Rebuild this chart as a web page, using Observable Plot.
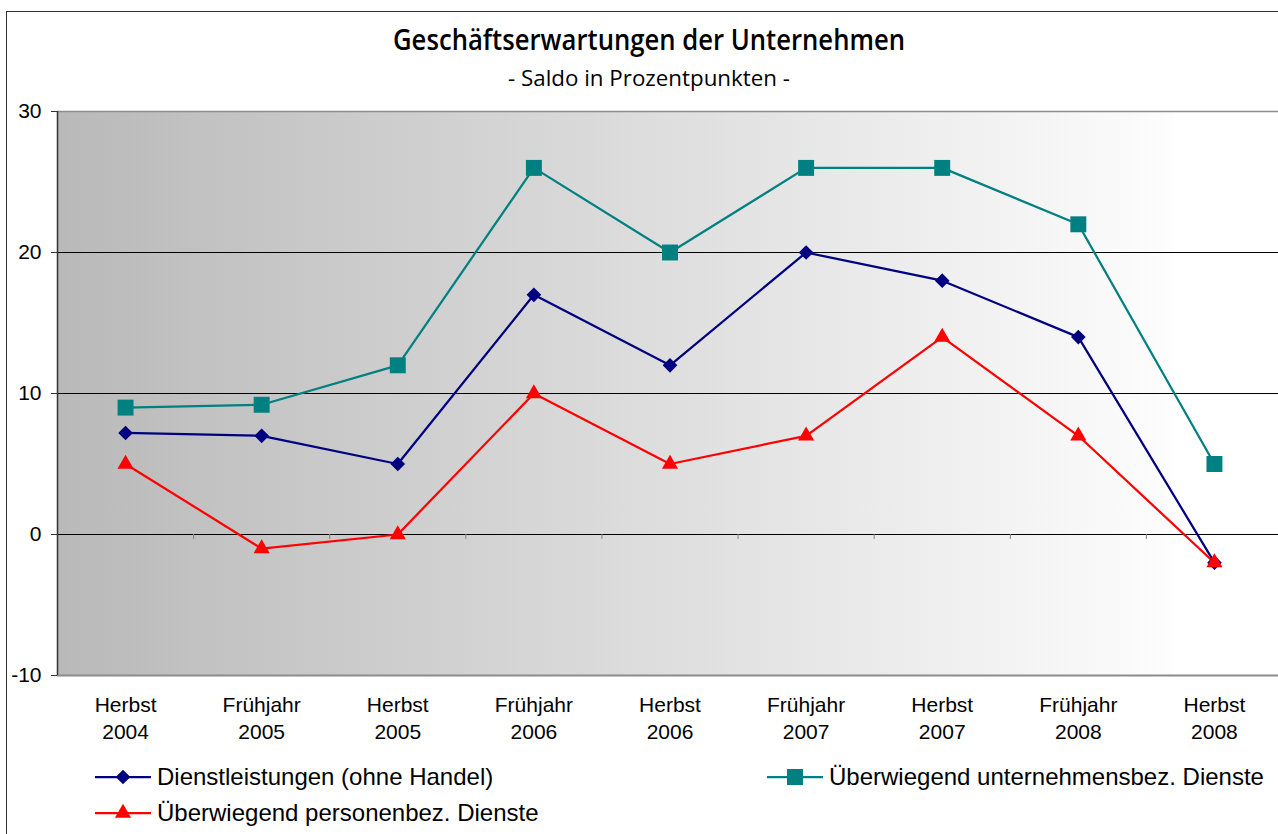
<!DOCTYPE html>
<html><head><meta charset="utf-8">
<script src="https://cdn.jsdelivr.net/npm/d3@7"></script>
<script src="https://cdn.jsdelivr.net/npm/@observablehq/plot@0.6"></script>
<style>
body{margin:0;background:#fff;}
#wrap{position:relative;width:1278px;height:834px;overflow:hidden;font-family:"Liberation Sans",Arial,sans-serif;background:#fff;}
#frame{position:absolute;left:6px;top:11px;width:1300px;height:900px;border-left:1.5px solid #333;border-top:1.5px solid #333;}
#chart{position:absolute;left:0;top:0;}
#titles{position:absolute;left:0;top:0;}
.legend{position:absolute;display:flex;align-items:center;font-size:24px;color:#000;height:36px;white-space:nowrap;}
.legend svg{margin-right:6px;}
</style></head><body>
<div id="wrap"><div id="frame"></div><svg id="titles" width="1278" height="100"></svg><div id="chart"></div><div id="legend"></div></div>
<script>
const title = "Geschäftserwartungen der Unternehmen";
const subtitle = "- Saldo in Prozentpunkten -";
const categories = ["Herbst\n2004","Frühjahr\n2005","Herbst\n2005","Frühjahr\n2006","Herbst\n2006","Frühjahr\n2007","Herbst\n2007","Frühjahr\n2008","Herbst\n2008"];
const dienstleistungen = [7.2, 7.0, 5.0, 17.0, 12.0, 20.0, 18.0, 14.0, -2.0];
const unternehmensbez = [9.0, 9.2, 12.0, 26.0, 20.0, 26.0, 26.0, 22.0, 5.0];
const personenbez = [5.0, -1.0, 0.0, 10.0, 5.0, 7.0, 14.0, 7.0, -2.0];
const seriesNames = ["Dienstleistungen (ohne Handel)", "Überwiegend unternehmensbez. Dienste", "Überwiegend personenbez. Dienste"];
const seriesColors = ["#000080", "#008080", "#ff0000"];
const seriesSymbols = ["diamond2", "square", "triangle"];
const seriesR = [6.6, 9, 6];
const yTicks = [-10, 0, 10, 20, 30];
const gridValues = [0, 10, 20];

const seriesData = [dienstleistungen, unternehmensbez, personenbez];
const idx = categories.map((_, i) => i);
const boundaries = categories.slice(1).map((_, i) => i + 0.5);

const marks = [
  Plot.frame({fill: "url(#bg)", stroke: null}),
  Plot.ruleY(gridValues, {stroke: "#000", strokeWidth: 1}),
  Plot.ruleY([30], {stroke: "#8c8c8c", strokeWidth: 1.5}),
  Plot.ruleY([-10], {stroke: "#8c8c8c", strokeWidth: 2}),
  Plot.ruleX(boundaries, {y1: 0, y2: -0.35, stroke: "#808080", strokeWidth: 1}),
  Plot.ruleX([-0.5], {stroke: "#333", strokeWidth: 1.5}),
  Plot.axisY({ticks: yTicks, tickFormat: d => String(d), tickSize: 6, tickPadding: 10, label: null, fontSize: 21, stroke: "#333"}),
  Plot.axisX({ticks: idx, tickFormat: i => categories[i], tickSize: 0, tickPadding: 17, lineHeight: 1.3, fontSize: 21, label: null})
];
seriesData.forEach((arr, s) => {
  marks.push(Plot.line(arr, {x: (d, i) => i, y: d => d, stroke: seriesColors[s], strokeWidth: 2.25}));
});
seriesData.forEach((arr, s) => {
  marks.push(Plot.dot(arr, {x: (d, i) => i, y: d => d, symbol: seriesSymbols[s], fill: seriesColors[s], stroke: "none", r: seriesR[s]}));
});

const plot = Plot.plot({
  width: 1278, height: 760,
  marginTop: 111, marginBottom: 85, marginLeft: 57, marginRight: -4,
  style: {fontFamily: "'Liberation Sans', Arial, sans-serif", fontSize: "21px", background: "transparent", color: "#000"},
  x: {type: "linear", domain: [-0.5, categories.length - 0.5], axis: null},
  y: {domain: [-10, 30], axis: null},
  marks
});

const svg = d3.select(plot);
const grad = svg.insert("defs", ":first-child").append("linearGradient")
  .attr("id", "bg").attr("x1", 0).attr("x2", 1).attr("y1", 0).attr("y2", 0);
[[0, "#b9b9b9"], [0.91, "#fdfdfd"], [0.911, "#ffffff"], [1, "#ffffff"]].forEach(([o, c]) =>
  grad.append("stop").attr("offset", o).attr("stop-color", c));
document.getElementById("chart").appendChild(plot);

// titles
const tsvg = d3.select("#titles");
tsvg.append("text").attr("x", 649).attr("y", 50).attr("text-anchor", "middle")
  .attr("font-family", "'Open Sans', sans-serif").attr("font-weight", 600).attr("font-size", 29)
  .attr("textLength", 512).attr("lengthAdjust", "spacingAndGlyphs").text(title);
tsvg.append("text").attr("x", 649).attr("y", 86).attr("text-anchor", "middle")
  .attr("font-family", "'Open Sans', sans-serif").attr("font-size", 21)
  .attr("textLength", 282).attr("lengthAdjust", "spacingAndGlyphs").text(subtitle);

// legend
const legendPos = [[95, 759], [767, 759], [95, 795]];
const legend = d3.select("#legend");
const symMap = {diamond2: d3.symbolDiamond2, square: d3.symbolSquare, triangle: d3.symbolTriangle};
seriesNames.forEach((name, s) => {
  const item = legend.append("div").attr("class", "legend")
    .style("left", legendPos[s][0] + "px").style("top", legendPos[s][1] + "px");
  const sw = item.append("svg").attr("width", 56).attr("height", 24);
  sw.append("line").attr("x1", 0).attr("x2", 56).attr("y1", 12).attr("y2", 12)
    .attr("stroke", seriesColors[s]).attr("stroke-width", 2.25);
  sw.append("path").attr("transform", "translate(28,12)")
    .attr("d", d3.symbol(symMap[seriesSymbols[s]], Math.PI * seriesR[s] * seriesR[s])())
    .attr("fill", seriesColors[s]);
  item.append("span").text(name);
});
</script>
</body></html>
